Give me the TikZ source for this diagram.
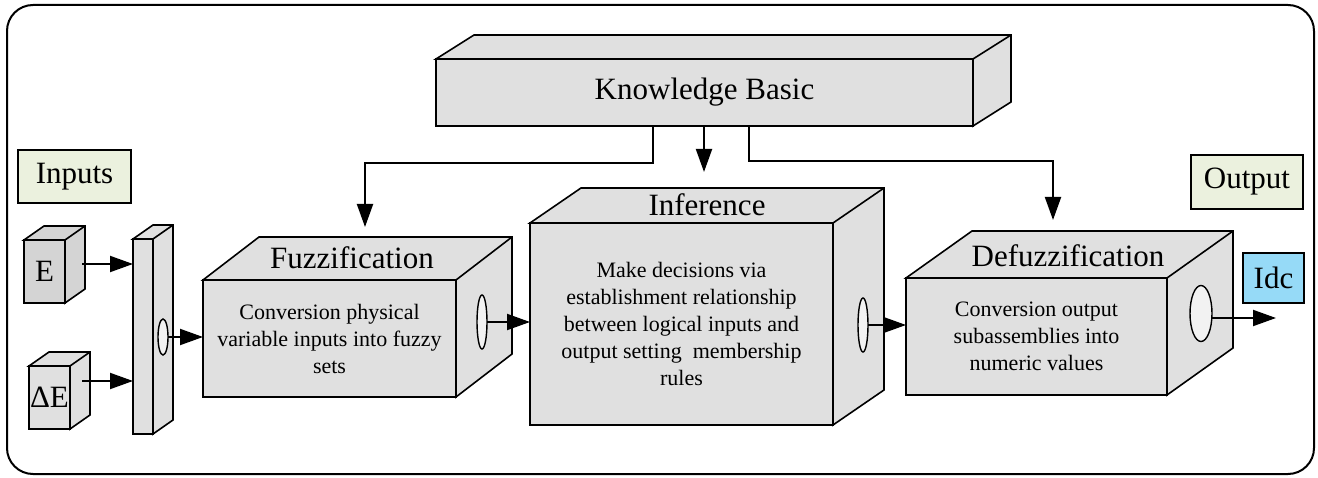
\documentclass[tikz,border=0pt]{standalone}
\usepackage{fontspec}
\setmainfont{Liberation Serif}
\usetikzlibrary{arrows.meta,calc,shapes.geometric}
\definecolor{boxgray}{RGB}{224,224,224}
\definecolor{cubegray}{RGB}{212,212,212}
\definecolor{lgreen}{RGB}{235,241,222}
\definecolor{lblue}{RGB}{150,218,247}
\definecolor{ellfill}{RGB}{242,242,242}
\newcommand\ttlfont{\fontsize{31}{37}\selectfont}
\newcommand\bdyfont{\fontsize{22}{27}\selectfont}
\newcommand\depthfaces[4]{%
  \draw[face, fill=#4] (#1.north west) -- ++(#2,#3) -- ($(#1.north east)+(#2,#3)$)
     -- ($(#1.south east)+(#2,#3)$) -- (#1.south east) -- (#1.north east) -- cycle;
  \draw[face, fill=none] (#1.north east) -- ++(#2,#3);}
\tikzset{
  face/.style={draw=black, fill=boxgray, line width=1.6pt, line join=miter},
  frontbox/.style={face, rectangle, inner sep=0pt, outer sep=0pt, align=center, font=\bdyfont},
  labelbox/.style={draw, line width=1.6pt, fill=lgreen, rectangle, inner sep=0pt, font=\ttlfont},
  ttl/.style={font=\ttlfont, inner sep=0pt},
  arr/.style={line width=2pt, -{Triangle[length=23pt,width=16pt]}},
  port/.style={ellipse, draw, line width=1.4pt, fill=ellfill, inner sep=0pt, outer sep=0pt},
}
\begin{document}
\begin{tikzpicture}[x=1pt,y=-1pt]
\useasboundingbox (0,0) rectangle (1318,478);
\draw[line width=2pt, rounded corners=26pt] (7,5) rectangle (1314,474);

% Knowledge base
\node[frontbox, font=\ttlfont, minimum width=537pt, minimum height=67pt] (kb) at (704.5,92.5) {Knowledge Basic};
\depthfaces{kb}{38}{-24}{boxgray}

% Inputs / Output labels
\node[labelbox, minimum width=113pt, minimum height=53pt] (inputs) at (74.5,176.5) {Inputs};
\node[labelbox, minimum width=112pt, minimum height=54pt] (output) at (1247,182) {Output};
\node[labelbox, fill=lblue, minimum width=61pt, minimum height=50pt] (idc) at (1273.5,278) {Idc};

% input cubes
\node[frontbox, fill=cubegray, font=\ttlfont, minimum width=41pt, minimum height=63pt] (cubeE) at (44.5,271.5) {E};
\depthfaces{cubeE}{20}{-14}{cubegray}
\node[frontbox, font=\ttlfont, minimum width=41pt, minimum height=63pt] (cubeDE) at (49.5,397.5) {ΔE};
\depthfaces{cubeDE}{20}{-14}{boxgray}

% bar
\node[frontbox, minimum width=20pt, minimum height=195pt] (bar) at (143,336.5) {};
\depthfaces{bar}{20}{-14}{boxgray}
\node[port, minimum width=10pt, minimum height=36pt] (e1) at (163,337) {};

% Fuzzification
\node[frontbox, minimum width=253pt, minimum height=117pt] (fz) at (329.5,338.5)
  {Conversion physical\\variable inputs into fuzzy\\sets};
\depthfaces{fz}{56}{-43}{boxgray}
\node[ttl] (fzt) at (352,258) {Fuzzification};
\node[port, minimum width=10pt, minimum height=54pt] (e2) at (482,322) {};

% Inference
\node[frontbox, minimum width=303pt, minimum height=202pt] (inf) at (681.5,324)
  {Make decisions via\\establishment relationship\\between logical inputs and\\output setting\ \ membership\\rules};
\depthfaces{inf}{51}{-35}{boxgray}
\node[ttl] (inft) at (707,205) {Inference};
\node[port, minimum width=10pt, minimum height=54pt] (e3) at (863,325) {};

% Defuzzification
\node[frontbox, minimum width=261pt, minimum height=117pt] (dfz) at (1036.5,336.5)
  {Conversion output\\subassemblies into\\numeric values};
\depthfaces{dfz}{66}{-47}{boxgray}
\node[ttl] (dfzt) at (1068,256) {Defuzzification};
\node[port, minimum width=22pt, minimum height=56pt] (e4) at (1201,313.5) {};

% free ends
\coordinate (eout) at (82,264);
\coordinate (deout) at (82,381);
\coordinate (fzin) at (365,227);
\coordinate (infin) at (704,172);
\coordinate (dfzin) at (1053,220);
\coordinate (outc) at (1276,318);

% connectors
\draw[arr] (eout) -- (eout -| bar.west);
\draw[arr] (deout) -- (deout -| bar.west);
\draw[arr] (e1.east) -- (e1.east -| fz.west);
\draw[arr] (e2.east) -- (e2.east -| inf.west);
\draw[arr] (e3.east) -- (e3.east -| dfz.west);
\draw[arr] (e4.east |- outc) -- (outc);

\draw[arr] ($(kb.south west)+(217,0)$) -- ++(0,37) -| (fzin);
\draw[arr] (infin |- kb.south) -- (infin);
\draw[arr] ($(kb.south west)+(313,0)$) -- ++(0,35) -| (dfzin);
\end{tikzpicture}
\end{document}
